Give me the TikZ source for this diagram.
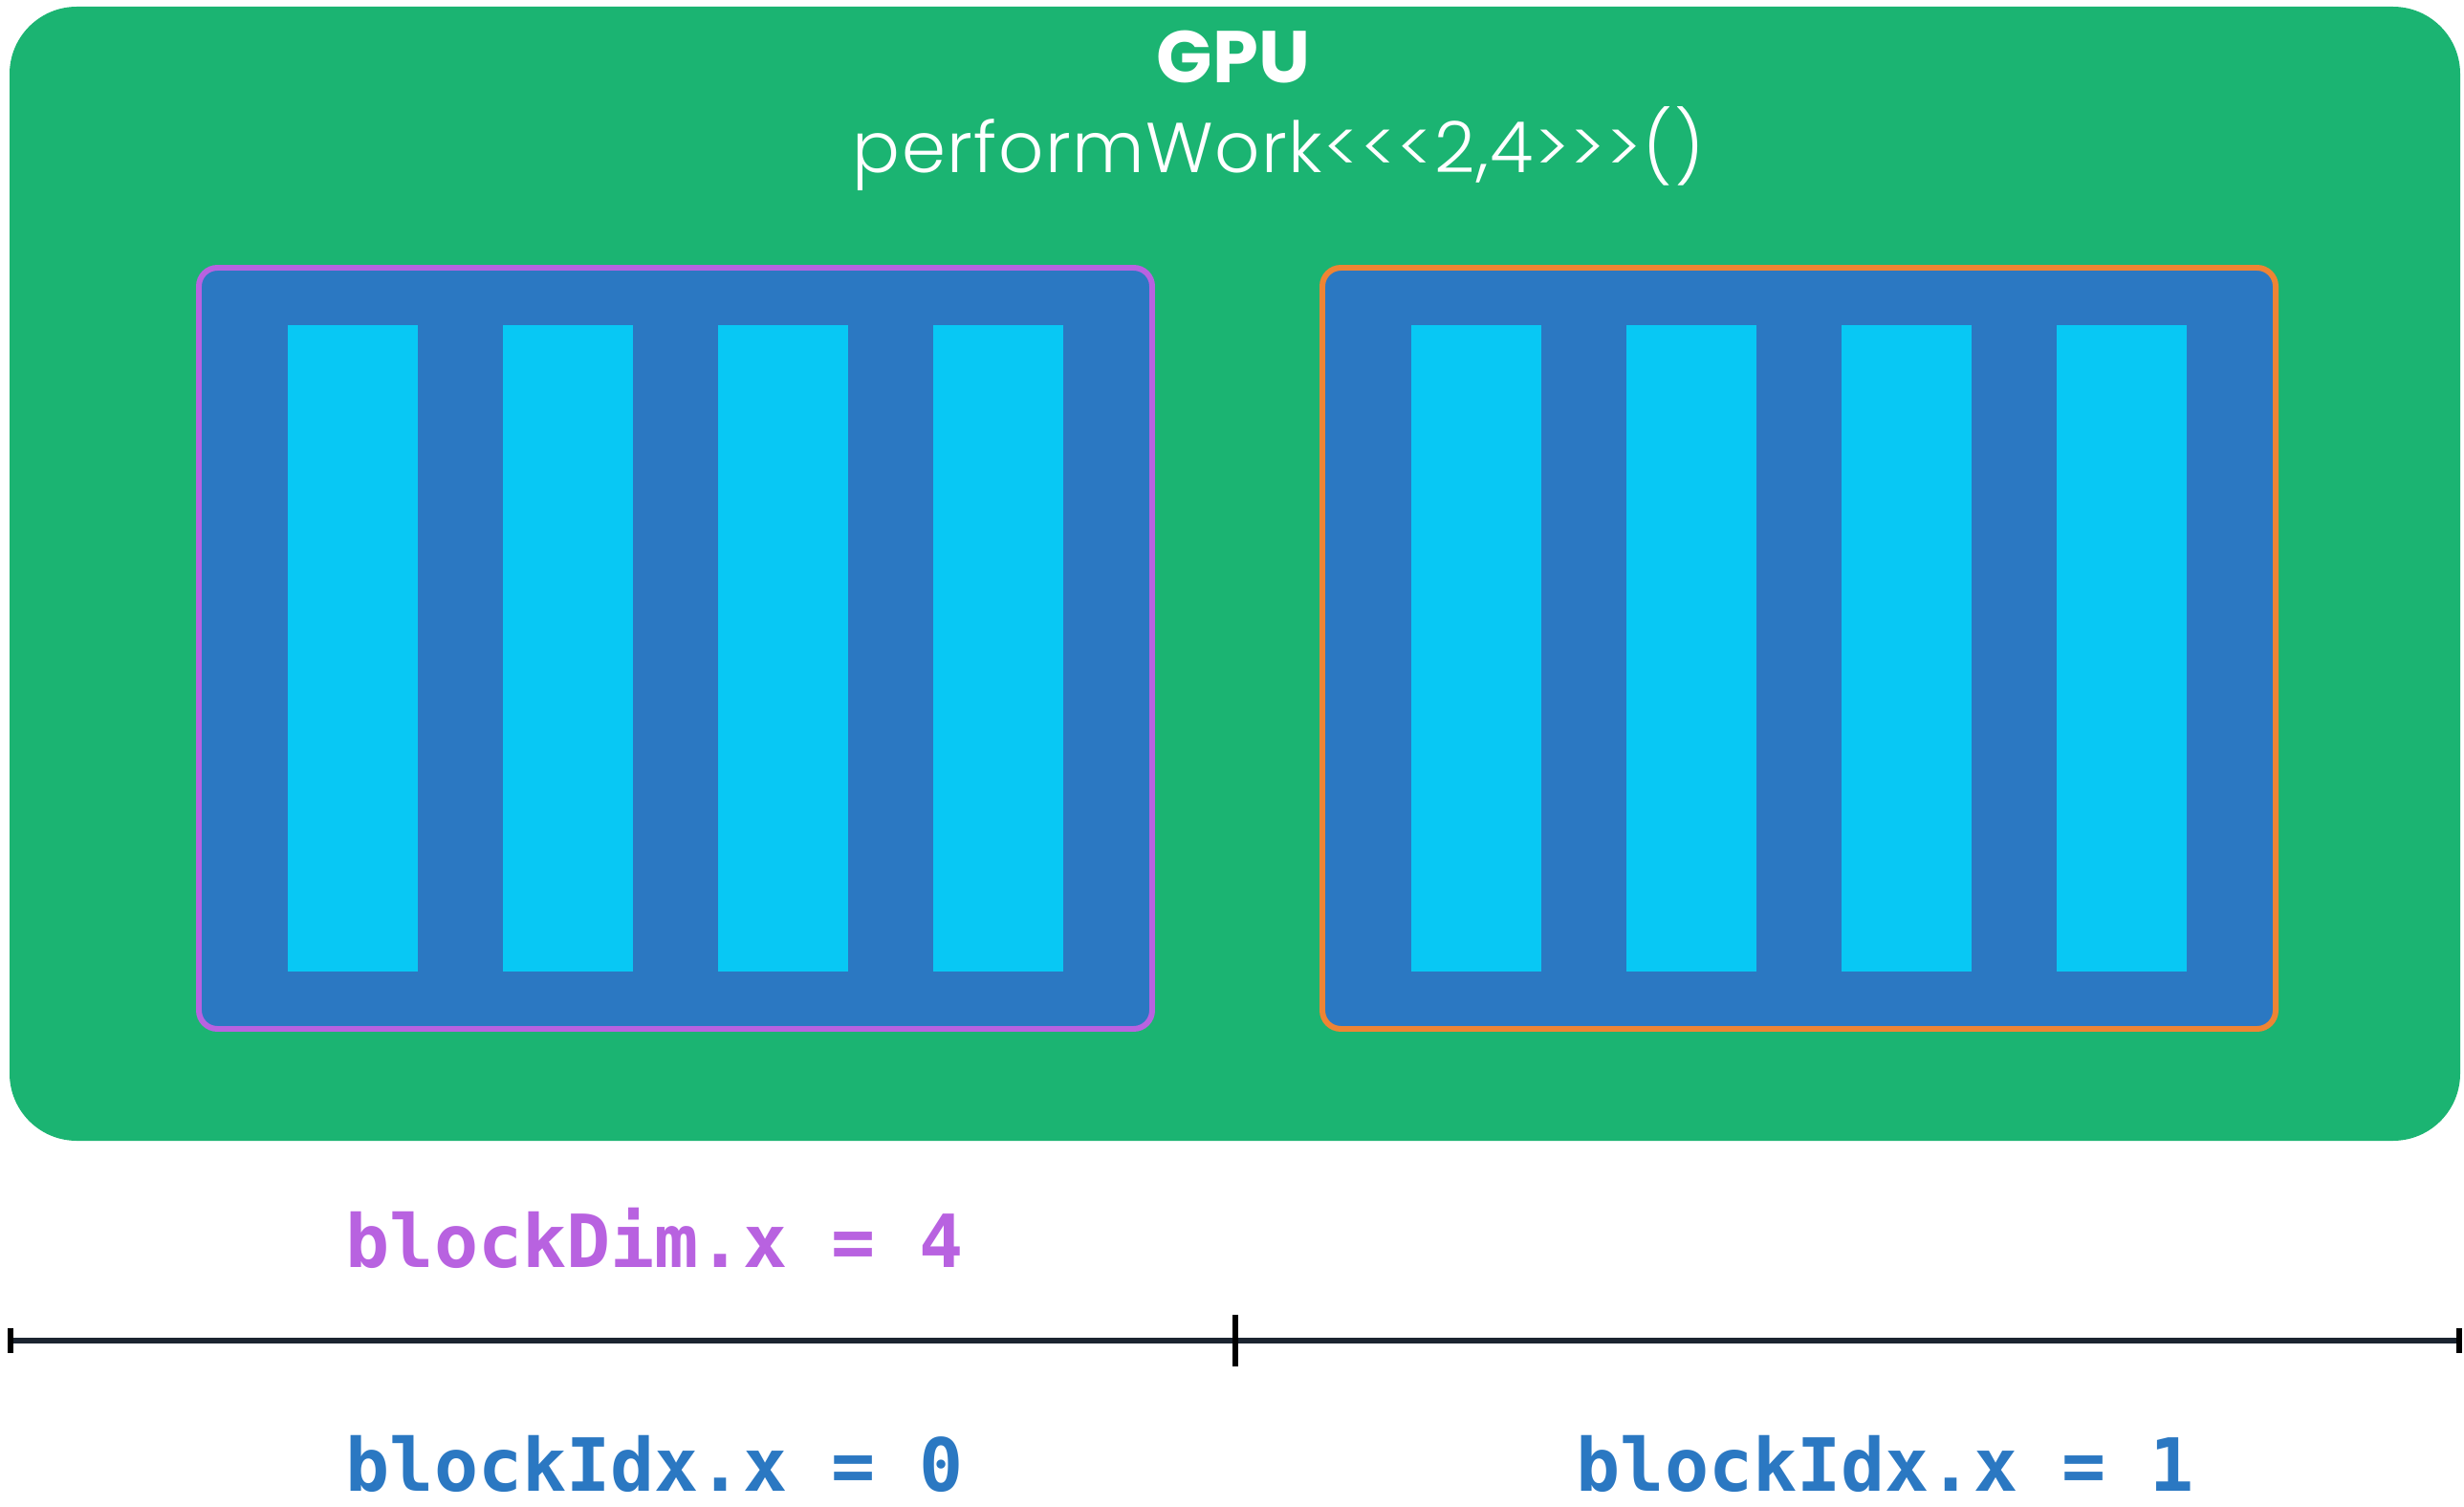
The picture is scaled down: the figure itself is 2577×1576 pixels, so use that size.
\documentclass[tikz,border=0pt]{standalone}
\usepackage{fontspec}
\setmainfont{Poppins}
\newfontfamily\lightfont{Poppins Light}[LetterSpace=2]
\newfontfamily\codefont{DejaVu Sans Mono}
\definecolor{gpugreen}{RGB}{27,180,114}
\definecolor{blockblue}{RGB}{43,120,194}
\definecolor{threadcyan}{RGB}{8,200,244}
\definecolor{dimpurple}{RGB}{184,98,224}
\definecolor{idxorange}{RGB}{238,132,52}
\definecolor{axisnavy}{RGB}{27,36,48}
\tikzset{
  gpubox/.style={fill=gpugreen, rounded corners=20pt},
  blockbox/.style={fill=blockblue, line width=1.7pt, rounded corners=5.5pt},
  thread/.style={fill=threadcyan},
  codelabel/.style={anchor=base west, inner sep=0pt, font=\codefont\bfseries\fontsize{21.8}{26}\selectfont},
  axis/.style={draw=axisnavy, line width=1.7pt},
  tick/.style={draw=black, line width=1.5pt},
}
\begin{document}
\begin{tikzpicture}[x=0.01cm, y=-0.01cm]
\useasboundingbox (0,0) rectangle (2577,1576);
% device frame
\path[gpubox] (10,7) rectangle (2573,1193);
\node[anchor=base, inner sep=0pt, text=white, font=\bfseries\fontsize{21.8}{26}\selectfont] (gpu) at (1290,87) {GPU};
\node[anchor=base, inner sep=0pt, text=white, font=\lightfont\fontsize{21}{25}\selectfont] (launch) at (1337,181) {performWork<{}<{}<2,4>{}>{}>()};
% block 0
\path[blockbox, draw=dimpurple] (208,280) rectangle (1205,1076);
\foreach \x in {301,526,751,976}
  \path[thread] (\x,340) rectangle ++(136,676);
% block 1
\path[blockbox, draw=idxorange] (1383,280) rectangle (2380,1076);
\foreach \x in {1476,1701,1926,2151}
  \path[thread] (\x,340) rectangle ++(136,676);
% labels
\node[codelabel, text=dimpurple] (dim) at (361,1325) {blockDim.x = 4};
\node[codelabel, text=blockblue] (idx0) at (361,1559) {blockIdx.x = 0};
\node[codelabel, text=blockblue] (idx1) at (1648,1559) {blockIdx.x = 1};
% index axis
\coordinate (axL) at (11,1402);
\coordinate (axM) at (1292,1402);
\coordinate (axR) at (2572,1402);
\draw[axis] (axL) -- (axR);
\draw[tick] ([yshift=3.8pt]axL) -- ([yshift=-3.8pt]axL);
\draw[tick] ([yshift=3.8pt]axR) -- ([yshift=-3.8pt]axR);
\draw[tick] ([yshift=7.7pt]axM) -- ([yshift=-7.7pt]axM);
\end{tikzpicture}
\end{document}
